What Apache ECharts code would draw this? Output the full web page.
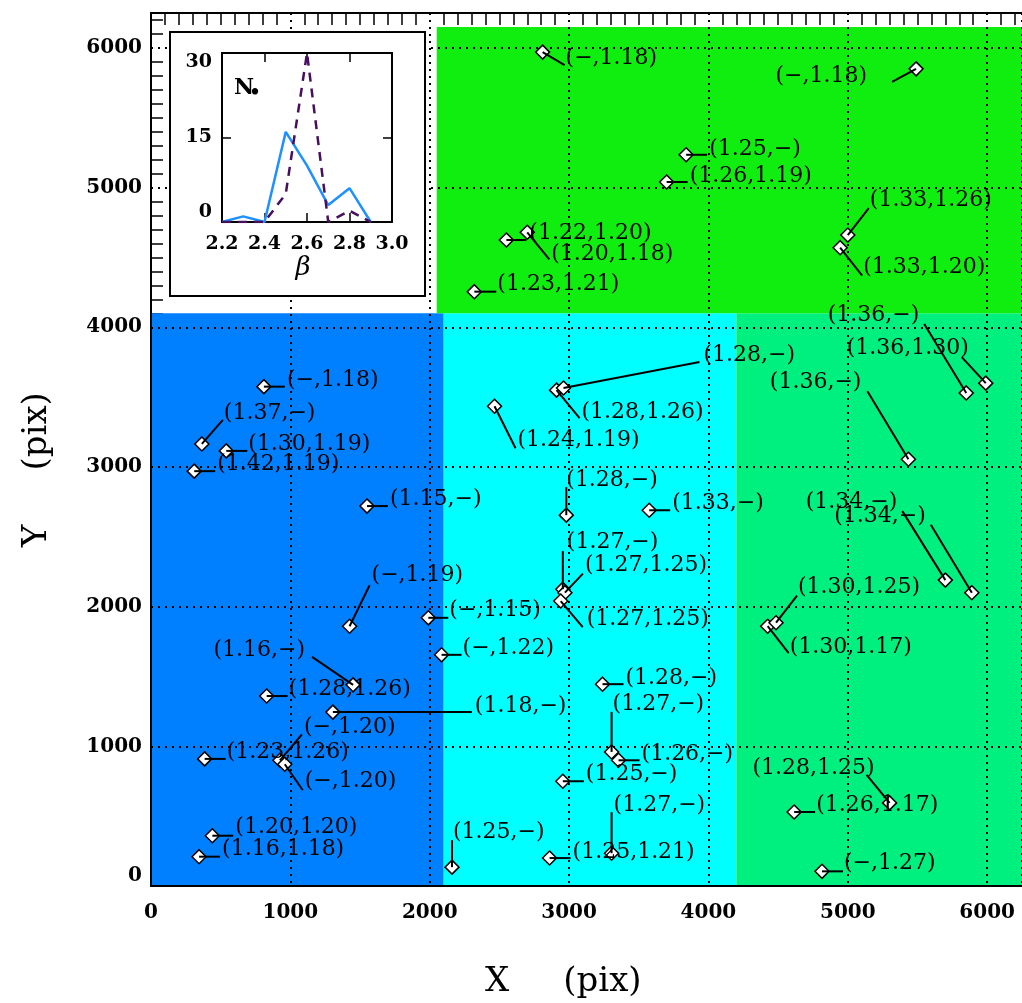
<!DOCTYPE html>
<html>
<head>
<meta charset="utf-8">
<script src="https://cdn.jsdelivr.net/npm/echarts@6/dist/echarts.min.js"></script>
<style>
html, body { margin: 0; padding: 0; background: #fff; }
#chart { width: 1022px; height: 1003px; }
</style>
</head>
<body>
<div id="chart"></div>
<script>
// Source positions on the detector (pix)
const srcX = [2810, 5490, 3840, 3700, 2550, 2700, 2320, 5000, 4945,
  810, 365, 540, 310, 1550, 1425, 1450, 830, 1305, 925, 960, 385, 440, 345,
  2465, 2910, 2960, 2980, 3575, 2955, 2970, 2940, 1990, 2085, 3240, 3305, 3355, 2955, 3305, 2860, 2160,
  5850, 5990, 5435, 5700, 5890, 4425, 4485, 5300, 4615, 4815];
const srcY = [5970, 5850, 5235, 5040, 4625, 4680, 4255, 4660, 4570,
  3575, 3165, 3115, 2970, 2720, 1860, 1440, 1360, 1245, 900, 872, 910, 360, 210,
  3435, 3550, 3565, 2655, 2690, 2125, 2100, 2040, 1920, 1655, 1445, 960, 900, 750, 235, 200, 135,
  3530, 3600, 3055, 2190, 2100, 1860, 1885, 595, 530, 105];
// Index pair printed beside each source; null is printed as a dash
const slopeA = [null, null, 1.25, 1.26, 1.22, 1.20, 1.23, 1.33, 1.33,
  null, 1.37, 1.30, 1.42, 1.15, null, 1.16, 1.28, 1.18, null, null, 1.23, 1.20, 1.16,
  1.24, 1.28, 1.28, 1.28, 1.33, 1.27, 1.27, 1.27, null, null, 1.28, 1.27, 1.26, 1.25, 1.27, 1.25, 1.25,
  1.36, 1.36, 1.36, 1.34, 1.34, 1.30, 1.30, 1.28, 1.26, null];
const slopeB = [1.18, 1.18, null, 1.19, 1.20, 1.18, 1.21, 1.26, 1.20,
  1.18, null, 1.19, 1.19, null, 1.19, null, 1.26, null, 1.20, 1.20, 1.26, 1.20, 1.18,
  1.19, 1.26, null, null, null, null, 1.25, 1.25, 1.15, 1.22, null, null, null, null, null, 1.21, null,
  null, 1.30, null, null, null, 1.17, 1.25, 1.25, 1.17, 1.27];
// Label placement in screen px from the marker: [leader dx, leader dy, text dx, text dy, side]
const labelLayout = [
  [22, 13, 23, 6, 'l'], [-24, 13, -49, 7, 'r'], [21, 0, 23, -5, 'l'], [21, 0, 23, -6, 'l'],
  [20, 0, 23, -7, 'l'], [22, 27, 24, 22, 'l'], [22, 0, 23, -7, 'l'], [21, -27, 22, -35, 'l'],
  [22, 28, 23, 20, 'l'],
  [21, 0, 23, -6, 'l'], [21, -24, 22, -31, 'l'], [21, 0, 22, -7, 'l'], [21, 0, 23, -7, 'l'],
  [21, 0, 23, -7, 'l'], [20, -41, 22, -51, 'l'], [-41, -28, -48, -35, 'r'], [21, 0, 22, -7, 'l'],
  [139, 0, 142, -6, 'l'], [22, -26, 24, -33, 'l'], [18, 26, 20, 17, 'l'], [21, 0, 22, -7, 'l'],
  [21, 0, 23, -8, 'l'], [21, 0, 23, -7, 'l'],
  [21, 42, 23, 34, 'l'], [23, 28, 25, 22, 'l'], [136, -26, 140, -33, 'l'], [0, -28, 0, -35, 'l'],
  [21, 0, 23, -7, 'l'], [0, -38, 4, -47, 'l'], [18, -19, 20, -27, 'l'], [22, 26, 26, 18, 'l'],
  [20, 0, 21, -8, 'l'], [20, 0, 21, -7, 'l'], [21, 0, 23, -6, 'l'], [0, -40, 1, -48, 'l'],
  [21, 0, 23, -6, 'l'], [21, 0, 23, -7, 'l'], [0, -41, 2, -48, 'l'], [21, 0, 23, -6, 'l'],
  [0, -27, 1, -35, 'l'],
  [-42, -69, -47, -78, 'r'], [-24, -26, -17, -35, 'r'], [-41, -68, -47, -77, 'r'],
  [-43, -69, -48, -78, 'r'], [-41, -68, -46, -76, 'r'], [21, 27, 22, 21, 'l'],
  [21, -27, 22, -35, 'l'], [-23, -28, -15, -35, 'r'], [21, 0, 22, -7, 'l'], [21, 0, 22, -8, 'l']
];

// Shaded zones of the field (pix)
const zoneX0 = [0, 2100, 4200, 2050];
const zoneX1 = [2100, 4200, 6250, 6250];
const zoneY0 = [0, 0, 0, 4100];
const zoneY1 = [4100, 4100, 4100, 6150];
const zoneColors = ['#0080ff', '#00ffff', '#00f080', '#10ee10'];

// Inset histogram of beta
const betaBins = [2.2, 2.3, 2.4, 2.5, 2.6, 2.7, 2.8, 2.9];
const countSolid = [0, 1, 0, 16, 10, 3, 6, 0];
const countDashed = [0, 0, 0, 5, 30, 0, 2, 0];

const serif = 'DejaVu Serif';
const fmt = v => (v == null ? '\u2212' : v.toFixed(2));
const labelText = srcX.map((_, i) => '(' + fmt(slopeA[i]) + ',' + fmt(slopeB[i]) + ')');
const points = srcX.map((x, i) => [x, srcY[i]]);
const zones = zoneX0.map((x, i) => [x, zoneX1[i], zoneY0[i], zoneY1[i]]);

const minorTicks = [];
for (let v = 100; v < 6250; v += 100) if (v % 1000 !== 0) minorTicks.push(v);

const boldLabel = { color: '#000', fontFamily: serif, fontWeight: 'bold', fontSize: 20 };
const dotted = { color: '#000', width: 2, type: [2, 5] };
const frame = { onZero: false, lineStyle: { color: '#000', width: 2 } };
const plain = v => String(v);

const chart = echarts.init(document.getElementById('chart'));
chart.setOption({
  animation: false,
  backgroundColor: '#fff',
  grid: [
    { left: 151, top: 13, width: 872, height: 873 },
    { left: 222, top: 53, width: 170, height: 169 }
  ],
  xAxis: [
    { gridIndex: 0, type: 'value', min: 0, max: 6250, interval: 1000, position: 'bottom', z: 4,
      axisLine: frame, axisTick: { show: false },
      axisLabel: Object.assign({ margin: 17, showMaxLabel: false, formatter: plain }, boldLabel),
      splitLine: { show: true, lineStyle: dotted } },
    { gridIndex: 0, type: 'value', min: 0, max: 6250, interval: 100, position: 'top', z: 0,
      axisLine: frame,
      axisTick: { inside: true, length: 12, customValues: minorTicks, lineStyle: { color: '#000', width: 1.5 } },
      axisLabel: { show: false }, splitLine: { show: false } },
    { gridIndex: 1, type: 'value', min: 2.2, max: 3.0, interval: 0.2, position: 'bottom', z: 60,
      axisLine: frame, axisTick: { inside: true, length: 9, lineStyle: { color: '#000', width: 1.5 } },
      axisLabel: Object.assign({ margin: 13, formatter: v => v.toFixed(1) }, boldLabel, { fontSize: 19 }),
      splitLine: { show: false } },
    { gridIndex: 1, type: 'value', min: 2.2, max: 3.0, interval: 0.2, position: 'top', z: 60,
      axisLine: frame, axisTick: { inside: true, length: 9, lineStyle: { color: '#000', width: 1.5 } },
      axisLabel: { show: false }, splitLine: { show: false } }
  ],
  yAxis: [
    { gridIndex: 0, type: 'value', min: 0, max: 6250, interval: 1000, position: 'left', z: 4,
      axisLine: frame, axisTick: { show: false },
      axisLabel: Object.assign({ margin: 9, showMaxLabel: false, formatter: plain,
                                 verticalAlignMinLabel: 'bottom' }, boldLabel),
      splitLine: { show: true, lineStyle: dotted } },
    { gridIndex: 0, type: 'value', min: 0, max: 6250, interval: 100, position: 'left', z: 0,
      axisLine: frame,
      axisTick: { inside: true, length: 12, customValues: minorTicks, lineStyle: { color: '#000', width: 1.5 } },
      axisLabel: { show: false }, splitLine: { show: false } },
    { gridIndex: 1, type: 'value', min: 0, max: 30, interval: 15, position: 'left', z: 60,
      axisLine: frame, axisTick: { inside: true, length: 9, lineStyle: { color: '#000', width: 1.5 } },
      axisLabel: Object.assign({ margin: 10, formatter: plain,
                                 verticalAlignMinLabel: 'bottom', verticalAlignMaxLabel: 'top' },
                               boldLabel, { fontSize: 19 }),
      splitLine: { show: false } },
    { gridIndex: 1, type: 'value', min: 0, max: 30, interval: 15, position: 'right', z: 60,
      axisLine: frame, axisTick: { inside: true, length: 9, lineStyle: { color: '#000', width: 1.5 } },
      axisLabel: { show: false }, splitLine: { show: false } }
  ],
  graphic: [
    { type: 'rect', z: 50, shape: { x: 170, y: 32, width: 255, height: 264 },
      style: { fill: '#fff', stroke: '#000', lineWidth: 2 } },
    { type: 'text', z: 80, x: 234, y: 88,
      style: { text: 'N', fill: '#000', font: 'bold 22px "DejaVu Serif"', align: 'left', verticalAlign: 'middle',
               textAlign: 'left', textVerticalAlign: 'middle' } },
    { type: 'text', z: 80, x: 255, y: 93,
      style: { text: '\u2022', fill: '#000', font: 'bold 18px "DejaVu Serif"', align: 'center', verticalAlign: 'middle',
               textAlign: 'center', textVerticalAlign: 'middle' } },
    { type: 'text', z: 80, x: 303, y: 268,
      style: { text: '\u03b2', fill: '#000', font: 'italic 26px "DejaVu Serif"', align: 'center', verticalAlign: 'middle',
               textAlign: 'center', textVerticalAlign: 'middle' } },
    { type: 'text', z: 80, x: 485, y: 982,
      style: { text: 'X     (pix)', fill: '#000', font: '34px "DejaVu Serif"', align: 'left', verticalAlign: 'middle',
               textAlign: 'left', textVerticalAlign: 'middle' } },
    { type: 'text', z: 80, x: 37, y: 547, rotation: Math.PI / 2,
      style: { text: 'Y     (pix)', fill: '#000', font: '34px "DejaVu Serif"', align: 'left', verticalAlign: 'middle',
               textAlign: 'left', textVerticalAlign: 'middle' } }
  ],
  series: [
    { type: 'custom', xAxisIndex: 0, yAxisIndex: 0, z: 1, silent: true, clip: true,
      data: zones,
      renderItem: (params, api) => {
        const a = api.coord([api.value(0), api.value(3)]);
        const b = api.coord([api.value(1), api.value(2)]);
        return { type: 'rect', shape: { x: a[0], y: a[1], width: b[0] - a[0], height: b[1] - a[1] },
                 style: { fill: zoneColors[params.dataIndex] } };
      } },
    { type: 'scatter', xAxisIndex: 0, yAxisIndex: 0, z: 6, data: points,
      symbol: 'diamond', symbolSize: 14,
      itemStyle: { color: '#fff', borderColor: '#000', borderWidth: 1.5, opacity: 1 } },
    { type: 'custom', xAxisIndex: 0, yAxisIndex: 0, z: 7, silent: true, clip: false,
      data: points,
      renderItem: (params, api) => {
        const i = params.dataIndex;
        const p = api.coord([api.value(0), api.value(1)]);
        const L = labelLayout[i];
        const side = L[4] === 'r' ? 'right' : 'left';
        return { type: 'group', children: [
          { type: 'line', shape: { x1: p[0], y1: p[1], x2: p[0] + L[0], y2: p[1] + L[1] },
            style: { stroke: '#000', lineWidth: 2 } },
          { type: 'text', x: p[0] + L[2], y: p[1] + L[3],
            style: { text: labelText[i], fill: '#000', font: '22px "DejaVu Serif"',
                     align: side, verticalAlign: 'middle', textAlign: side, textVerticalAlign: 'middle' } }
        ] };
      } },
    { type: 'line', xAxisIndex: 2, yAxisIndex: 2, z: 70, symbol: 'none',
      data: betaBins.map((b, i) => [b, countSolid[i]]),
      lineStyle: { color: '#1e90ff', width: 2.5 } },
    { type: 'line', xAxisIndex: 2, yAxisIndex: 2, z: 70, symbol: 'none',
      data: betaBins.map((b, i) => [b, countDashed[i]]),
      lineStyle: { color: '#46105f', width: 2.5, type: [9, 7] } }
  ]
});
</script>
</body>
</html>
